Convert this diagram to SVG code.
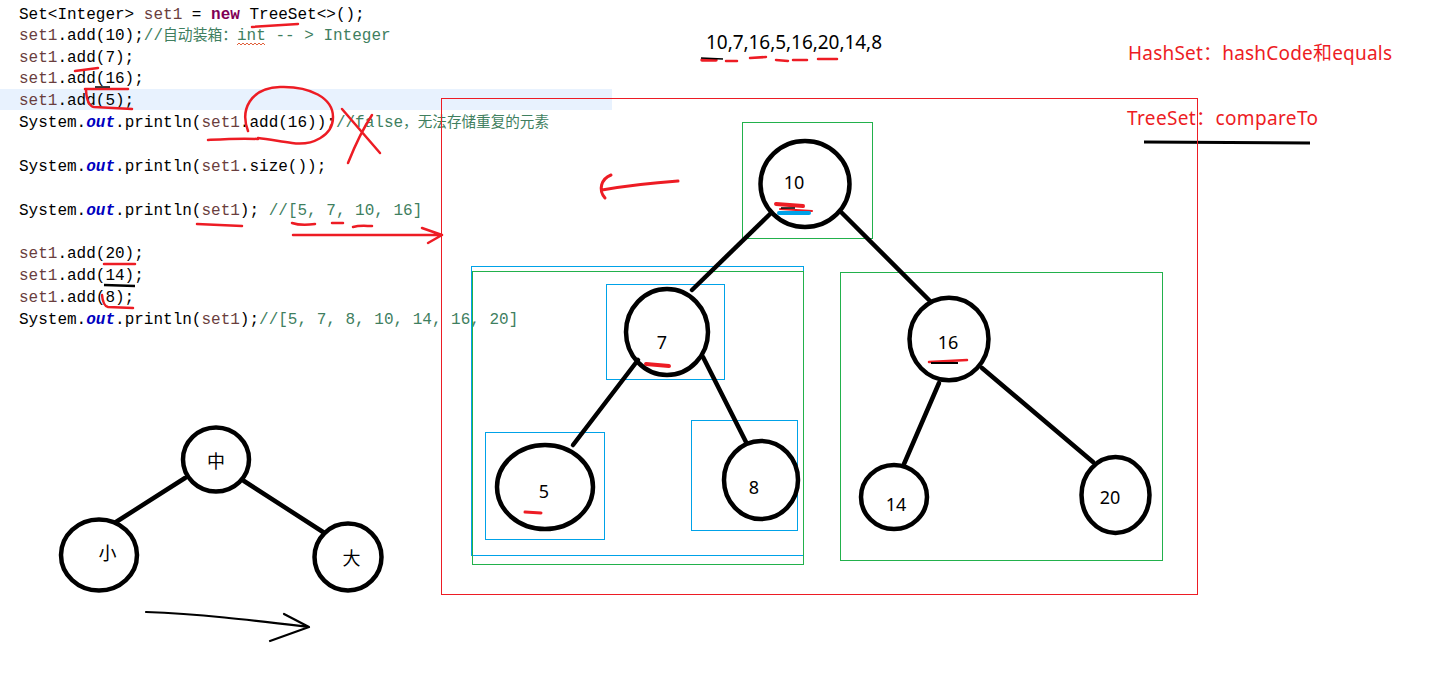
<svg xmlns="http://www.w3.org/2000/svg" width="1434" height="698" viewBox="0 0 1434 698">
<defs>
<style>
.code{font-family:"Liberation Mono","Noto Sans CJK SC",monospace;font-size:16px;fill:#000}
.v{fill:#6A3E3E}
.k{fill:#7F0055;font-weight:bold}
.f{fill:#0000C0;font-weight:bold;font-style:italic}
.c{fill:#3F7F5F}
.node{fill:none;stroke:#000;stroke-width:4.5}
.edge{stroke:#000;stroke-width:4.5;stroke-linecap:round;fill:none}
.lbl{font-family:"Noto Sans","Noto Sans CJK SC",sans-serif;font-size:18px;fill:#000;text-anchor:middle}
.red{stroke:#ED1C24;fill:none;stroke-linecap:round;stroke-linejoin:round}
.gbox{fill:none;stroke:#22B14C;stroke-width:1}
.bbox{fill:none;stroke:#00A2E8;stroke-width:1}
.note{font-family:"Noto Sans","Noto Sans CJK SC",sans-serif;font-size:19px;fill:#ED1C24}
</style>
</defs>
<rect x="0" y="0" width="1434" height="698" fill="#fff"/>

<!-- code area -->
<g id="code">
<rect x="0" y="89" width="612" height="21" fill="#E8F2FE"/>
<text class="code" x="19" y="19">Set&lt;Integer&gt; <tspan class="v">set1</tspan> = <tspan class="k">new</tspan> TreeSet&lt;&gt;();</text>
<text class="code" x="19" y="40"><tspan class="v">set1</tspan>.add(10);<tspan class="c">//<tspan font-size="14.8">自动装箱：</tspan></tspan><tspan class="c" x="237">int -- &gt; Integer</tspan></text>
<text class="code" x="19" y="62"><tspan class="v">set1</tspan>.add(7);</text>
<text class="code" x="19" y="83"><tspan class="v">set1</tspan>.add(16);</text>
<text class="code" x="19" y="105"><tspan class="v">set1</tspan>.add(5);</text>
<text class="code" x="19" y="127">System.<tspan class="f">out</tspan>.println(<tspan class="v">set1</tspan>.add(16));<tspan class="c">//false<tspan font-size="14.6">，无法存储重复的元素</tspan></tspan></text>
<text class="code" x="19" y="171">System.<tspan class="f">out</tspan>.println(<tspan class="v">set1</tspan>.size());</text>
<text class="code" x="19" y="215">System.<tspan class="f">out</tspan>.println(<tspan class="v">set1</tspan>); <tspan class="c">//[5, 7, 10, 16]</tspan></text>
<text class="code" x="19" y="258"><tspan class="v">set1</tspan>.add(20);</text>
<text class="code" x="19" y="280"><tspan class="v">set1</tspan>.add(14);</text>
<text class="code" x="19" y="302"><tspan class="v">set1</tspan>.add(8);</text>
<text class="code" x="19" y="324">System.<tspan class="f">out</tspan>.println(<tspan class="v">set1</tspan>);<tspan class="c">//[5, 7, 8, 10, 14, 16, 20]</tspan></text>
<polyline points="237,45 239,43 241,45 243,43 245,45 247,43 249,45 251,43 253,45 255,43 257,45 259,43 261,45 263,43 265,45" fill="none" stroke="#E0603A" stroke-width="1"/>
</g>

<!-- hand annotations -->
<g id="annotations">
<path class="red" stroke-width="2.5" d="M252,27 L298,24"/>
<path class="red" stroke-width="2.5" d="M75,71 L98,68"/>
<path class="red" stroke-width="2.5" d="M85,89 L128,89"/>
<path d="M95,87 L110,87" stroke="#000" stroke-width="1.5"/>
<path class="red" stroke-width="2.5" d="M86,90 Q87,106 94,107 L132,109"/>
<path class="red" stroke-width="2.5" d="M208,140 C225,139 240,138 258,139 M248,131 C240,110 250,88 280,87 C310,86 333,98 333,117 C333,136 312,146 292,143 C278,141 268,139 258,138"/>
<path class="red" stroke-width="2.5" d="M342,109 L380,153 M372,115 C362,130 354,148 348,163"/>
<path class="red" stroke-width="2.5" d="M197,224 L242,226"/>
<path class="red" stroke-width="2.5" d="M292,223 C298,225 308,225 315,224 M332,223 L343,223 M353,227 C360,225 366,226 372,226"/>
<path class="red" stroke-width="2.5" d="M293,235 L440,235 M422,228 L442,235 L428,243"/>
<path class="red" stroke-width="2.5" d="M104,264 L135,264"/>
<path d="M104,285 L135,286" stroke="#000" stroke-width="2.5"/>
<path class="red" stroke-width="2.5" d="M102,295 Q103,306 108,307 L133,308"/>
<path class="red" stroke-width="3" d="M678,181 C650,183 625,186 602,190 M611,175 C601,179 598,190 605,198"/>
<path class="red" stroke-width="2.5" d="M726,61 L737,61 M750,58 L766,57 M776,60 L788,61 M793,60 L807,60 M818,59 L837,59"/>
<path class="red" stroke-width="3.5" d="M702,60 L716,60"/>
<path d="M701,58 L723,59" stroke="#000" stroke-width="1.5"/>
<path d="M1144,142 L1310,143" stroke="#000" stroke-width="3"/>
<path class="red" stroke-width="4" d="M776,204 L803,206"/>
<path class="red" stroke-width="2" d="M780,209 L812,211"/>
<path d="M779,213 L809,213" stroke="#00A2E8" stroke-width="4" stroke-linecap="round"/>
<path d="M781,208 L795,208" stroke="#000" stroke-width="1.5"/>
<path class="red" stroke-width="4" d="M646,364 L669,366"/>
<path class="red" stroke-width="3" d="M525,512 L541,513"/>
<path class="red" stroke-width="2.5" d="M929,362 L967,360"/>
<path d="M931,363 L958,363" stroke="#000" stroke-width="2"/>
</g>

<!-- texts -->
<text x="706" y="49" font-family="Noto Sans,sans-serif" font-size="19" fill="#000" textLength="176">10,7,16,5,16,20,14,8</text>
<text class="note" x="1128" y="60" textLength="264">HashSet：hashCode和equals</text>
<text class="note" x="1127" y="125" textLength="191">TreeSet：compareTo</text>

<!-- boxes -->
<g id="boxes">
<rect x="441.5" y="98.5" width="756" height="496" fill="none" stroke="#ED1C24" stroke-width="1"/>
<rect class="gbox" x="742.5" y="122.5" width="130" height="116"/>
<rect class="bbox" x="471.5" y="266.5" width="332" height="289"/>
<rect class="gbox" x="472.5" y="271.5" width="331" height="293"/>
<rect class="bbox" x="606.5" y="284.5" width="118" height="95"/>
<rect class="bbox" x="485.5" y="432.5" width="119" height="107"/>
<rect class="bbox" x="691.5" y="420.5" width="106" height="110"/>
<rect class="gbox" x="840.5" y="272.5" width="322" height="288"/>
</g>

<!-- connectors -->
<g id="connectors">
<line class="edge" x1="770" y1="214" x2="692" y2="290"/>
<line class="edge" x1="842" y1="213" x2="930" y2="301"/>
<line class="edge" x1="638" y1="360" x2="573" y2="445"/>
<line class="edge" x1="703" y1="357" x2="746" y2="442"/>
<line class="edge" x1="939" y1="383" x2="904" y2="464"/>
<line class="edge" x1="982" y1="368" x2="1093" y2="462"/>
<line class="edge" x1="185" y1="478" x2="116" y2="522"/>
<line class="edge" x1="244" y1="481" x2="323" y2="532"/>
<path d="M146,612 C200,614 250,620 309,627 M284,614 L309,627 L270,641" fill="none" stroke="#000" stroke-width="2.2" stroke-linecap="round" stroke-linejoin="round"/>
</g>

<!-- nodes -->
<g id="node-10"><ellipse class="node" cx="805" cy="184" rx="44.5" ry="43"/><text class="lbl" x="794" y="189">10</text></g>
<g id="node-7"><ellipse class="node" cx="667" cy="332" rx="41" ry="43"/><text class="lbl" x="662" y="349">7</text></g>
<g id="node-5"><ellipse class="node" cx="545" cy="487" rx="48" ry="42"/><text class="lbl" x="544" y="498">5</text></g>
<g id="node-8"><ellipse class="node" cx="761" cy="480" rx="37" ry="39"/><text class="lbl" x="754" y="494">8</text></g>
<g id="node-16"><ellipse class="node" cx="949" cy="339" rx="39.5" ry="41.3"/><text class="lbl" x="948" y="349">16</text></g>
<g id="node-14"><ellipse class="node" cx="894" cy="497" rx="33" ry="32"/><text class="lbl" x="896" y="511">14</text></g>
<g id="node-20"><ellipse class="node" cx="1115.5" cy="495" rx="34" ry="38"/><text class="lbl" x="1110" y="504">20</text></g>
<g id="node-zhong"><ellipse class="node" cx="216" cy="459.5" rx="33" ry="32"/><text class="lbl" x="216" y="468">中</text></g>
<g id="node-xiao"><ellipse class="node" cx="99" cy="555" rx="38" ry="35.5"/><text class="lbl" x="107.5" y="560">小</text></g>
<g id="node-da"><ellipse class="node" cx="348" cy="557" rx="33.5" ry="33.5"/><text class="lbl" x="351.5" y="565">大</text></g>
</svg>
